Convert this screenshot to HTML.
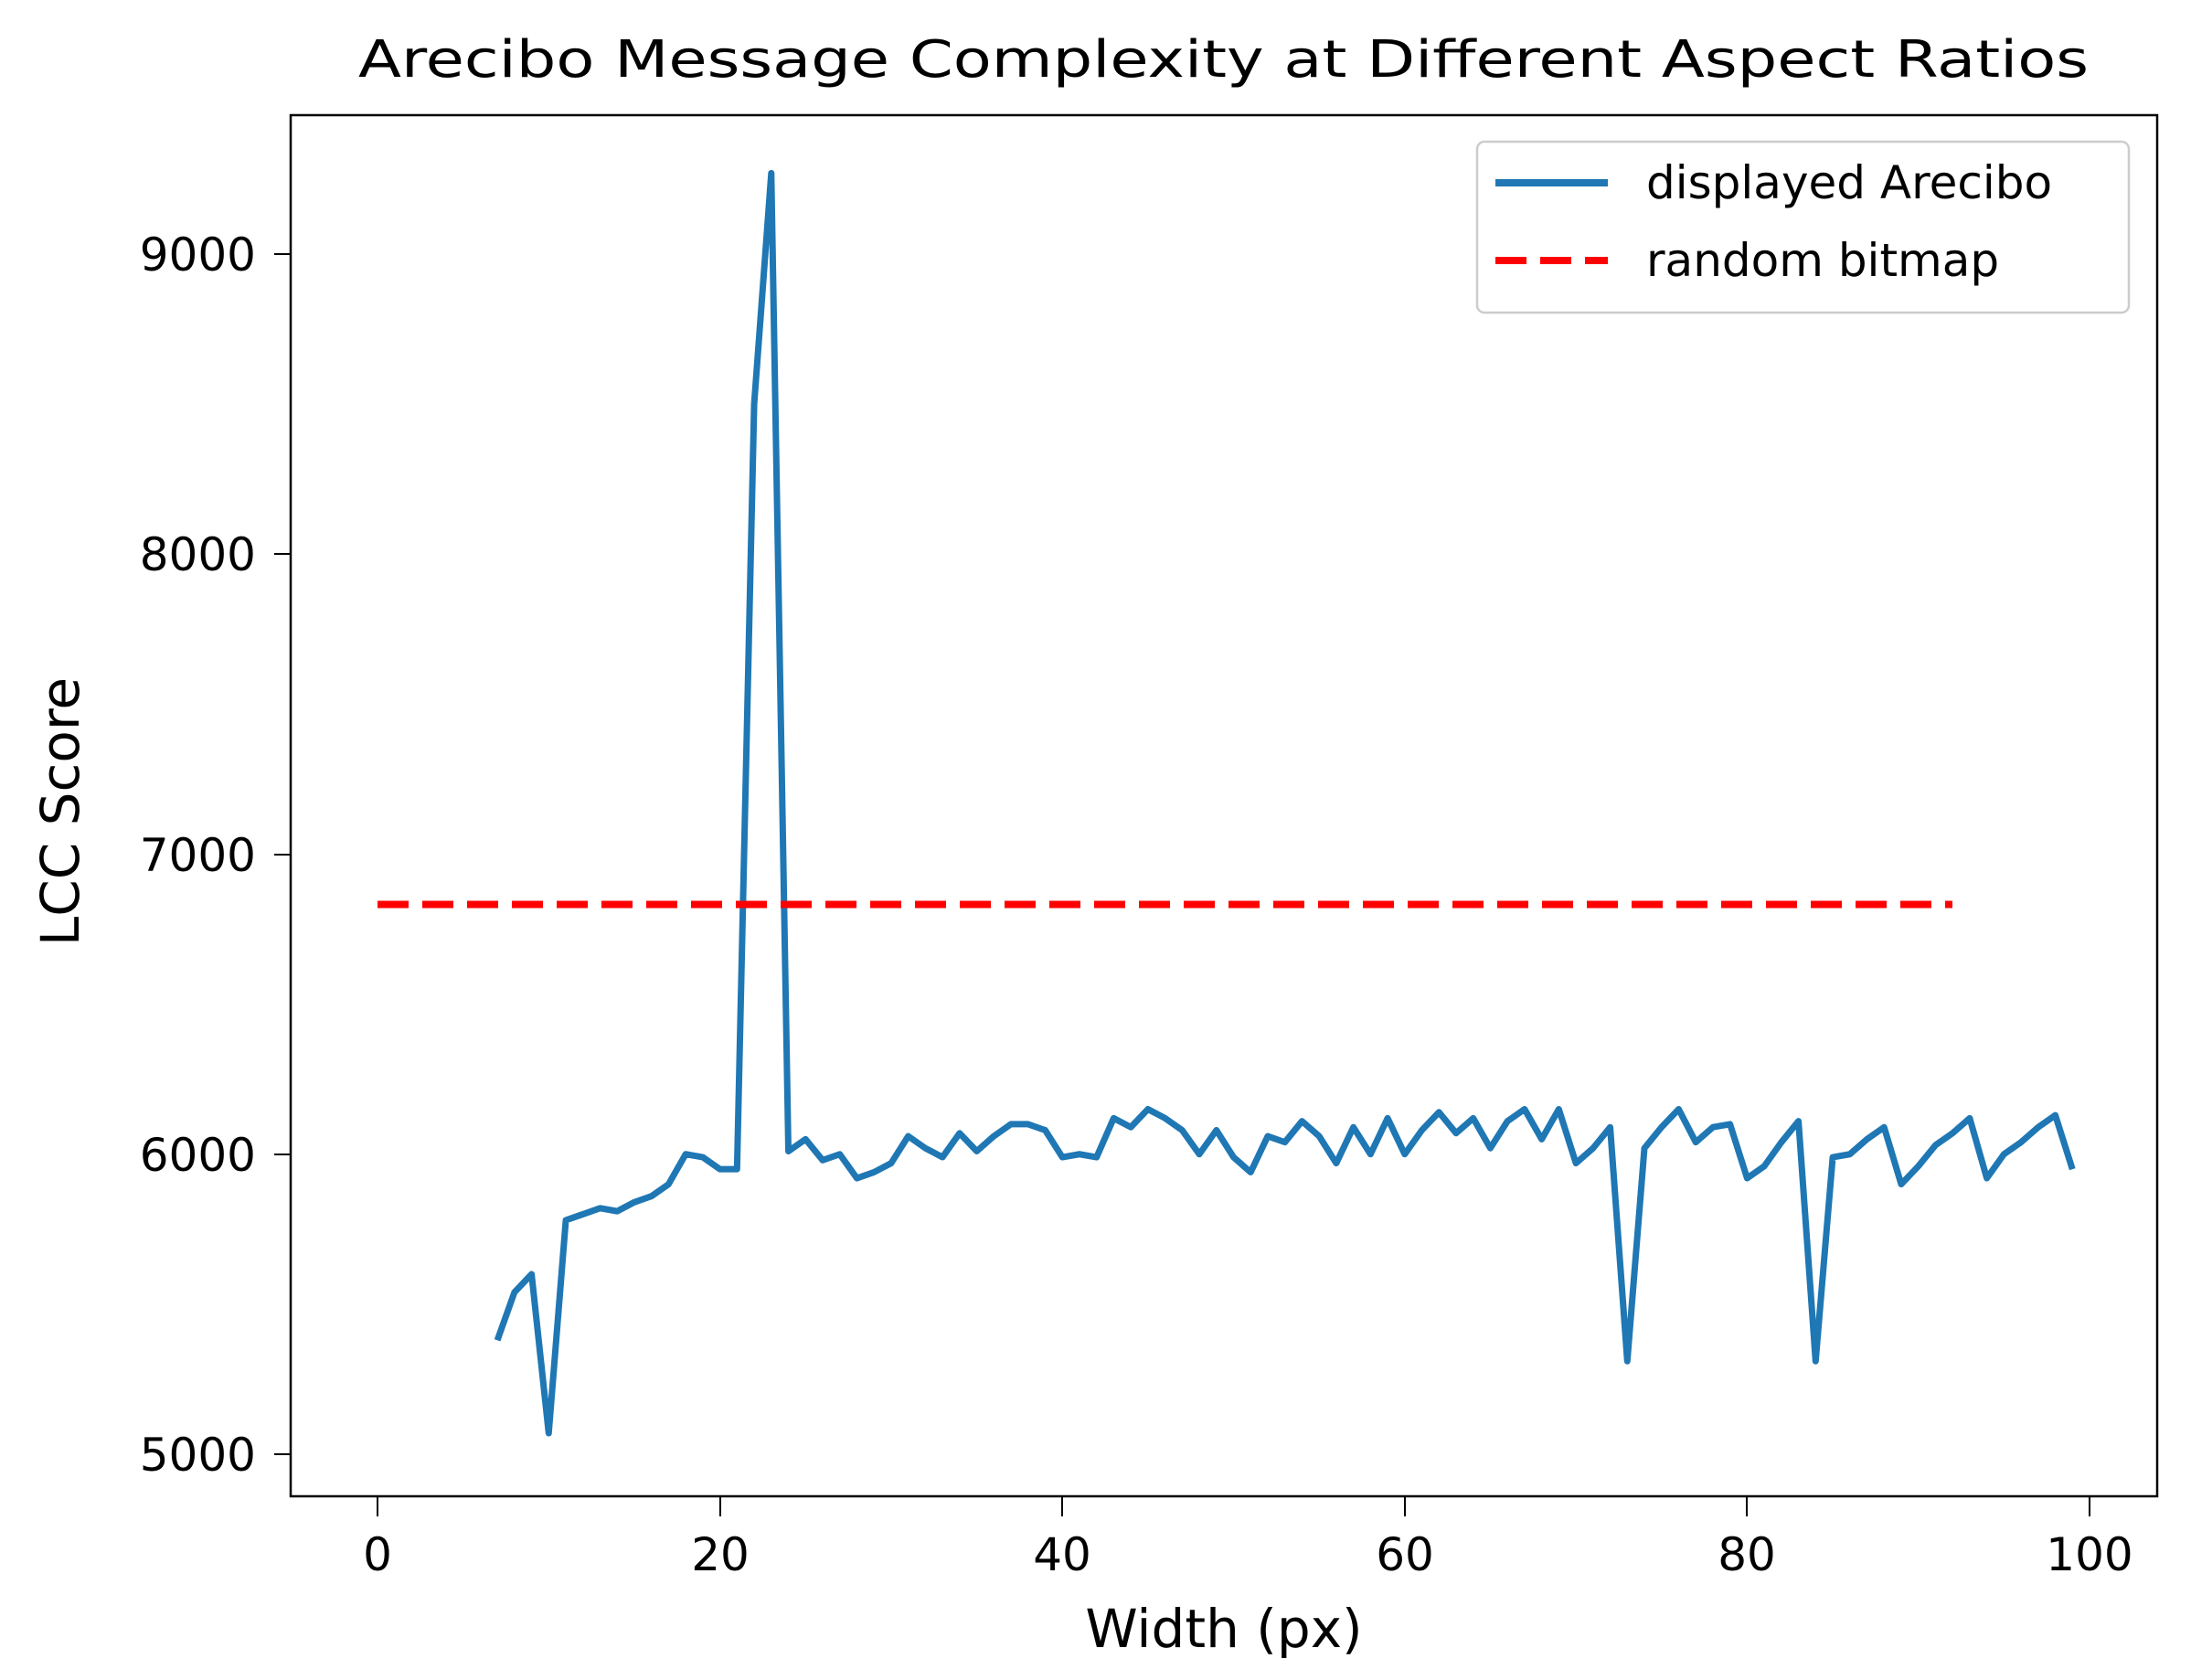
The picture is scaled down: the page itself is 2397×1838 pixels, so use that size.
<!DOCTYPE html>
<html><head><meta charset="utf-8"><style>html,body{margin:0;padding:0;background:#fff}svg{display:block}</style></head>
<body>
<svg width="2397" height="1838" viewBox="0 0 2397 1838" xmlns="http://www.w3.org/2000/svg" font-family="DejaVu Sans, Liberation Sans, sans-serif">
<rect width="2397" height="1838" fill="#fff"/>
<g transform="matrix(18.73,0,0,-0.32825,413,3232.25)">
<polyline fill="none" stroke="#1f77b4" stroke-width="7" vector-effect="non-scaling-stroke" stroke-linejoin="round" points="7,5380 8,5540 9,5600 10,5070 11,5780 12,5800 13,5820 14,5810 15,5840 16,5860 17,5900 18,6000 19,5990 20,5950 21,5950 22,8500 23,9270 24,6010 25,6050 26,5980 27,6000 28,5920 29,5940 30,5970 31,6060 32,6020 33,5990 34,6070 35,6010 36,6060 37,6100 38,6100 39,6080 40,5990 41,6000 42,5990 43,6120 44,6090 45,6150 46,6120 47,6080 48,6000 49,6080 50,5990 51,5940 52,6060 53,6040 54,6110 55,6060 56,5970 57,6090 58,6000 59,6120 60,6000 61,6080 62,6140 63,6070 64,6120 65,6020 66,6110 67,6150 68,6050 69,6150 70,5970 71,6020 72,6090 73,5310 74,6020 75,6090 76,6150 77,6040 78,6090 79,6100 80,5920 81,5960 82,6040 83,6110 84,5310 85,5990 86,6000 87,6050 88,6090 89,5900 90,5960 91,6030 92,6070 93,6120 94,5920 95,6000 96,6040 97,6090 98,6130 99,5950"/>
</g>
<line x1="413" y1="989.5" x2="2136" y2="989.5" stroke="#ff0000" stroke-width="8" stroke-dasharray="34,15"/>
<rect x="318" y="126" width="2042" height="1511" fill="none" stroke="#000" stroke-width="2.5"/>
<g stroke="#000" stroke-width="2">
<line x1="413" y1="1637" x2="413" y2="1659"/><line x1="788" y1="1637" x2="788" y2="1659"/><line x1="1162" y1="1637" x2="1162" y2="1659"/><line x1="1537" y1="1637" x2="1537" y2="1659"/><line x1="1911" y1="1637" x2="1911" y2="1659"/><line x1="2286" y1="1637" x2="2286" y2="1659"/>
<line x1="300" y1="278" x2="318" y2="278"/><line x1="300" y1="606" x2="318" y2="606"/><line x1="300" y1="935" x2="318" y2="935"/><line x1="300" y1="1263" x2="318" y2="1263"/><line x1="300" y1="1591" x2="318" y2="1591"/>
</g>
<g font-size="50" fill="#000" text-anchor="middle">
<text x="413" y="1718">0</text><text x="788" y="1718">20</text><text x="1162" y="1718">40</text><text x="1537" y="1718">60</text><text x="1911" y="1718">80</text><text x="2286" y="1718">100</text>
</g>
<g font-size="50" fill="#000" text-anchor="end">
<text x="280" y="296">9000</text><text x="280" y="624">8000</text><text x="280" y="953">7000</text><text x="280" y="1281">6000</text><text x="280" y="1609">5000</text>
</g>
<text x="1339" y="1802" font-size="58" text-anchor="middle">Width (px)</text>
<text transform="translate(86,888) rotate(-90)" font-size="58" text-anchor="middle">LCC Score</text>
<text x="392" y="84" font-size="56" textLength="1893" lengthAdjust="spacingAndGlyphs">Arecibo Message Complexity at Different Aspect Ratios</text>
<rect x="1616" y="155" width="713" height="187" rx="8" fill="#fff" stroke="#ccc" stroke-width="2.5"/>
<line x1="1636" y1="200" x2="1759" y2="200" stroke="#1f77b4" stroke-width="8"/>
<line x1="1636" y1="285" x2="1759" y2="285" stroke="#ff0000" stroke-width="8" stroke-dasharray="34,15"/>
<text x="1801" y="217" font-size="50">displayed Arecibo</text>
<text x="1801" y="302" font-size="50">random bitmap</text>
</svg>
</body></html>
